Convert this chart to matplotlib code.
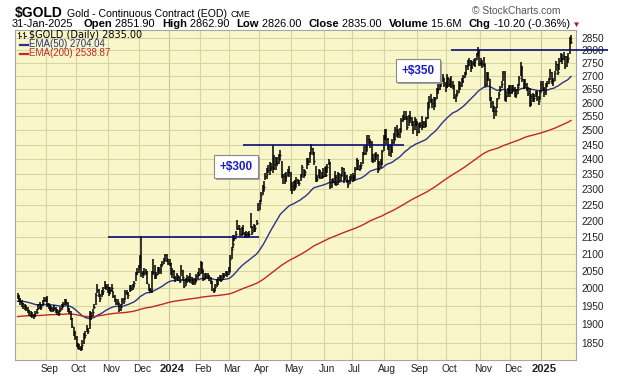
import numpy as np
import matplotlib
matplotlib.use("Agg")
import matplotlib.pyplot as plt
from matplotlib import patheffects, font_manager
from matplotlib.ticker import FixedLocator, NullLocator, FuncFormatter

# =====================================================
# Data
# =====================================================

# trading sessions shown in each month, Aug-2023 .. Jan-2025
month_labels = ["", "Sep", "Oct", "Nov", "Dec", "2024", "Feb", "Mar", "Apr", "May",
                "Jun", "Jul", "Aug", "Sep", "Oct", "Nov", "Dec", "2025"]
month_days = [20, 20, 22, 21, 20, 21, 20, 20, 22, 22, 19, 22, 22, 20, 23, 20, 21, 21]

# daily close
close = [
    1976, 1970, 1962, 1958, 1950, 1946, 1944, 1938, 1931, 1928, 1924, 1922, 1926, 1934, 1945, 1950, 1946, 1958, 1966, 1968,  # Aug 23
    1952, 1951, 1944, 1942, 1940, 1945, 1935, 1932, 1930, 1938, 1946, 1955, 1962, 1958, 1940, 1936, 1918, 1895, 1878, 1866,  # Sep
    1847, 1841, 1838, 1834, 1845, 1864, 1872, 1887, 1883, 1930, 1922, 1934, 1947, 1980, 1994, 1984, 1972, 1985, 1990, 2006, 2003, 1995,  # Oct
    1985, 1993, 1999, 1978, 1970, 1958, 1962, 1940, 1946, 1965, 1963, 1988, 1985, 1980, 1999, 1998, 2003, 2013, 2041, 2046, 2057,  # Nov
    2089, 2042, 2036, 2047, 2046, 2015, 1996, 1993, 2047, 2045, 2036, 2038, 2054, 2051, 2062, 2069, 2079, 2095, 2083, 2072,  # Dec
    2073, 2043, 2050, 2030, 2027, 2031, 2029, 2019, 2051, 2030, 2006, 2022, 2029, 2022, 2030, 2015, 2017, 2018, 2034, 2037, 2039,  # Jan 24
    2071, 2053, 2025, 2035, 2034, 2034, 2024, 2020, 1993, 1992, 2004, 2011, 2025, 2031, 2024, 2035, 2038, 2042, 2041, 2045,  # Feb
    2083, 2114, 2128, 2148, 2158, 2178, 2182, 2158, 2176, 2162, 2155, 2159, 2156, 2160, 2181, 2165, 2175, 2178, 2194, 2233,  # Mar
    2257, 2281, 2295, 2309, 2345, 2350, 2364, 2372, 2374, 2372, 2383, 2391, 2388, 2398, 2413, 2346, 2342, 2338, 2342, 2358, 2357, 2302,  # Apr
    2311, 2309, 2308, 2331, 2324, 2322, 2340, 2375, 2346, 2358, 2395, 2385, 2419, 2438, 2425, 2393, 2337, 2334, 2361, 2339, 2344, 2345,  # May
    2369, 2348, 2375, 2390, 2311, 2327, 2327, 2339, 2318, 2349, 2330, 2345, 2369, 2334, 2344, 2330, 2318, 2336, 2339,  # Jun
    2340, 2334, 2368, 2397, 2367, 2371, 2380, 2418, 2421, 2428, 2469, 2459, 2458, 2400, 2396, 2410, 2414, 2365, 2386, 2385, 2427, 2473,  # Jul
    2480, 2469, 2444, 2420, 2433, 2460, 2466, 2501, 2490, 2488, 2493, 2538, 2541, 2548, 2546, 2511, 2547, 2545, 2524, 2504, 2540, 2527,  # Aug
    2493, 2519, 2518, 2516, 2525, 2519, 2543, 2581, 2611, 2612, 2598, 2587, 2614, 2646, 2650, 2677, 2672, 2694, 2668, 2659,  # Sep
    2690, 2669, 2677, 2667, 2665, 2622, 2626, 2637, 2676, 2665, 2680, 2695, 2707, 2737, 2742, 2757, 2736, 2749, 2756, 2762, 2781, 2800, 2749,  # Oct
    2749, 2745, 2749, 2668, 2706, 2694, 2618, 2598, 2587, 2568, 2570, 2612, 2631, 2650, 2670, 2712, 2616, 2625, 2636, 2657,  # Nov
    2640, 2650, 2654, 2632, 2633, 2660, 2692, 2730, 2689, 2668, 2671, 2653, 2636, 2595, 2623, 2617, 2618, 2635, 2617, 2606, 2641,  # Dec
    2668, 2654, 2639, 2664, 2672, 2682, 2715, 2685, 2681, 2712, 2748, 2715, 2760, 2770, 2766, 2778, 2740, 2766, 2770, 2845, 2835,  # Jan 25
]

# high minus close
bar_up = [
    10, 9, 10, 8, 9, 8, 7, 9, 8, 7, 8, 6, 9, 8, 10, 12, 9, 8, 8, 7,
    26, 8, 9, 7, 8, 7, 12, 9, 8, 9, 8, 7, 8, 10, 20, 8, 19, 22, 15, 16,
    22, 10, 9, 8, 12, 12, 9, 10, 8, 6, 11, 8, 9, 5, 16, 14, 10, 8, 12, 13, 8, 15,
    18, 10, 13, 12, 10, 12, 7, 17, 9, 8, 9, 6, 10, 9, 8, 10, 8, 6, 6, 12, 9,
    6, 110, 12, 9, 8, 33, 16, 8, 3, 39, 31, 9, 6, 8, 8, 10, 7, 4, 15, 11,
    10, 30, 7, 22, 8, 12, 8, 16, 16, 21, 20, 6, 7, 11, 12, 16, 12, 11, 6, 9, 17,
    8, 23, 26, 7, 9, 8, 12, 12, 27, 7, 8, 14, 6, 7, 12, 8, 6, 6, 9, 16,
    12, 5, 28, 9, 10, 25, 6, 20, 5, 25, 10, 9, 8, 8, 44, 19, 14, 10, 9, 23,
    8, 10, 20, 17, 9, 22, 15, 18, 14, 76, 32, 17, 20, 19, 18, 48, 9, 15, 16, 10, 19, 56,
    12, 19, 22, 8, 9, 8, 10, 6, 20, 6, 8, 19, 4, 16, 15, 32, 41, 12, 6, 26, 13, 24,
    5, 28, 8, 12, 80, 8, 10, 20, 28, 9, 25, 6, 6, 36, 12, 16, 14, 8, 10,
    12, 14, 5, 8, 30, 8, 10, 6, 26, 20, 14, 24, 12, 62, 22, 10, 10, 52, 8, 15, 3, 10,
    25, 35, 28, 30, 20, 8, 25, 10, 28, 16, 14, 6, 14, 22, 24, 42, 8, 25, 24, 30, 8, 15,
    40, 8, 12, 35, 9, 14, 6, 22, 14, 20, 16, 35, 8, 10, 18, 8, 16, 15, 26, 20,
    18, 26, 14, 34, 16, 44, 8, 10, 5, 12, 14, 8, 10, 6, 20, 12, 27, 8, 10, 9, 8, 12, 52,
    20, 18, 26, 80, 8, 22, 70, 22, 20, 20, 16, 5, 10, 12, 12, 8, 105, 20, 18, 10,
    25, 15, 12, 26, 18, 10, 8, 25, 48, 22, 18, 22, 24, 58, 10, 18, 15, 8, 25, 18, 8,
    12, 28, 20, 10, 8, 10, 12, 30, 10, 8, 10, 32, 10, 20, 18, 14, 38, 10, 20, 10, 28,
]

# close minus low
bar_dn = [
    8, 10, 9, 10, 8, 7, 9, 8, 9, 8, 7, 8, 6, 7, 6, 8, 7, 9, 6, 7,
    5, 9, 8, 9, 7, 8, 6, 8, 7, 6, 7, 8, 9, 7, 6, 9, 6, 5, 10, 8,
    8, 7, 6, 6, 14, 17, 8, 7, 10, 43, 10, 12, 7, 27, 9, 10, 12, 10, 9, 8, 10, 9,
    8, 9, 10, 7, 9, 6, 9, 6, 10, 14, 9, 21, 6, 11, 10, 8, 10, 9, 21, 9, 13,
    31, 11, 8, 11, 10, 5, 5, 7, 60, 8, 10, 13, 17, 10, 22, 7, 9, 17, 9, 7,
    9, 6, 21, 5, 9, 9, 8, 5, 18, 9, 6, 16, 14, 6, 15, 5, 8, 9, 18, 11, 6,
    30, 9, 5, 10, 7, 9, 5, 8, 3, 7, 12, 9, 16, 10, 7, 12, 10, 9, 11, 9,
    36, 31, 12, 10, 8, 8, 12, 6, 23, 6, 8, 12, 9, 10, 3, 8, 9, 12, 8, 4,
    24, 23, 12, 13, 15, 15, 11, 24, 15, 17, 19, 26, 12, 15, 15, 8, 26, 20, 17, 14, 17, 6,
    25, 15, 10, 23, 8, 12, 14, 34, 8, 13, 27, 5, 31, 20, 10, 13, 12, 10, 25, 5, 9, 8,
    28, 8, 23, 8, 10, 22, 7, 25, 7, 34, 7, 19, 24, 12, 13, 8, 15, 20, 8,
    15, 8, 33, 30, 5, 12, 12, 35, 8, 15, 40, 6, 20, 8, 10, 18, 15, 12, 22, 15, 45, 45,
    15, 18, 14, 10, 24, 40, 12, 36, 12, 15, 20, 44, 10, 10, 10, 8, 32, 20, 10, 15, 40, 13,
    14, 28, 10, 14, 15, 12, 30, 40, 30, 12, 18, 12, 30, 32, 16, 28, 14, 15, 10, 20,
    36, 9, 20, 14, 14, 8, 22, 14, 40, 16, 22, 22, 14, 32, 18, 20, 20, 20, 18, 28, 18, 20, 10,
    12, 15, 14, 8, 45, 12, 10, 16, 20, 27, 18, 32, 18, 12, 15, 30, 11, 22, 16, 25,
    18, 18, 16, 10, 16, 28, 30, 28, 10, 18, 16, 10, 12, 12, 35, 14, 16, 15, 10, 14, 32,
    30, 12, 18, 34, 14, 12, 30, 14, 18, 30, 30, 12, 38, 14, 20, 16, 12, 30, 20, 60, 9,
]

# EMA levels at the first bar shown
ema50_start = 1962
ema200_start = 1920

# resistance levels and the gains written next to them
resistance = [2150, 2450, 2800]
gain_text = ["+$300", "+$350"]
gain_price = [2375, 2721]

# =====================================================
# Style / layout
# =====================================================

W, H = 620, 376
BG = "#f9f7c9"
GRID = "#d8d5a4"
BLUE_LINE = "#0c0c78"
EMA50_C = "#2a3388"
EMA200_C = "#c0272d"
SANS = ["Liberation Sans", "DejaVu Sans"]

installed = {f.name for f in font_manager.fontManager.ttflist}
NARROW = "Liberation Sans Narrow" if "Liberation Sans Narrow" in installed else "Liberation Sans"

# plot box in pixels
L, R, T, B = 15, 576, 30, 360

res_span = [(61, 163.5), (153, 262), (294, 400)]
gain_x = [148, 271.5]


def ema(values, span, start):
    alpha = 2.0 / (span + 1)
    out = []
    level = start
    for v in values:
        level = level + alpha * (v - level)
        out.append(level)
    return np.array(out)


close = np.array(close, dtype=float)
high = close + np.array(bar_up)
low = close - np.array(bar_dn)
x = np.arange(len(close))
starts = np.cumsum([0] + month_days[:-1])

fig = plt.figure(figsize=(W / 100, H / 100), dpi=100)
fig.patch.set_facecolor("white")
ax = fig.add_axes([L / W, 1 - B / H, (R - L) / W, (B - T) / H])
ax.set_facecolor(BG)

ax.set_yscale("log")
ax.set_ylim(1806, 2882)
ax.set_xlim(-1.7, 378.4)

# grid
for s, lab in zip(starts[1:], month_labels[1:]):
    ax.axvline(s - 0.5, color="#c8c59a" if lab.isdigit() else GRID, lw=0.8, zorder=0)
yt = list(range(1850, 2851, 50))
for v in yt:
    ax.axhline(v, color=GRID, lw=0.8, zorder=0)

# price bars
ax.vlines(x, low, high, color="black", lw=1.1, zorder=3)
ax.hlines(close, x, x + 0.7, color="black", lw=1.0, zorder=3)

# moving averages
ax.plot(x, ema(close, 50, ema50_start), color=EMA50_C, lw=1.0, zorder=2)
ax.plot(x, ema(close, 200, ema200_start), color=EMA200_C, lw=1.0, zorder=2)

# resistance lines
for lvl, (x0, x1) in zip(resistance, res_span):
    ax.hlines(lvl, x0, x1, color=BLUE_LINE, lw=1.2, zorder=4, clip_on=False)

for txt, gx, gp in zip(gain_text, gain_x, gain_price):
    t = ax.text(gx, gp, txt, ha="center", va="center", fontsize=8.5,
                fontweight="bold", color="#1b1bc4", family=SANS, zorder=6,
                bbox=dict(boxstyle="square,pad=0.45", fc="white", ec="#8a8a8a", lw=0.8))
    t.get_bbox_patch().set_path_effects([
        patheffects.withSimplePatchShadow(offset=(1.5, -1.5), shadow_rgbFace="#9a9a9a", alpha=0.9)
    ])

# axes
ax.yaxis.tick_right()
ax.yaxis.set_major_locator(FixedLocator(yt))
ax.yaxis.set_minor_locator(NullLocator())
ax.yaxis.set_major_formatter(FuncFormatter(lambda v, p: f"{int(round(v))}"))
ax.tick_params(axis="y", length=0, pad=4, labelsize=7.3, labelcolor="#222222")
ax.set_xticks(starts[1:] + 1.5)
ax.set_xticklabels(month_labels[1:])
ax.tick_params(axis="x", length=0, pad=3, labelsize=7.3, labelcolor="#222222")
for lab in ax.get_xticklabels() + ax.get_yticklabels():
    lab.set_family(SANS)
for lab in ax.get_xticklabels():
    if lab.get_text().isdigit():
        lab.set_fontweight("bold")
        lab.set_fontsize(8)
for sp in ax.spines.values():
    sp.set_color("#a5a5a5")
    sp.set_linewidth(0.8)


# =====================================================
# Header
# =====================================================

def fx(px):
    return px / W


def fy(py):
    return 1 - py / H


renderer = fig.canvas.get_renderer()


def write_run(parts, x0, y0):
    xpos = x0
    for s, kw in parts:
        if s is None:
            xpos += kw
            continue
        kw = dict(kw)
        fam = kw.pop("family", SANS)
        t = fig.text(fx(xpos), fy(y0), s, va="baseline", ha="left", family=fam, **kw)
        xpos += t.get_window_extent(renderer).width


gold_size = 11.5 if NARROW != "Liberation Sans" else 10
write_run([("$GOLD", dict(fontsize=gold_size, fontweight="bold", family=NARROW)), (None, 4),
           ("Gold - Continuous Contract (EOD)", dict(fontsize=7.6)), (None, 4),
           ("CME", dict(fontsize=6.5))], 15, 17)
fig.text(fx(561), fy(14.5), "\u00a9 StockCharts.com", ha="right", va="baseline",
         fontsize=7.4, color="#555555", family=SANS)

nb = dict(fontsize=7.9)
bd = dict(fontsize=8.1, fontweight="bold")
write_run([
    ("31-Jan-2025", nb), (None, 10),
    ("Open", bd), (" 2851.90", nb), (None, 7),
    ("High", bd), (" 2862.90", nb), (None, 7),
    ("Low", bd), (" 2826.00", nb), (None, 7),
    ("Close", bd), (" 2835.00", nb), (None, 7),
    ("Volume", bd), (" 15.6M", nb), (None, 7),
    ("Chg", bd), (" -10.20 (-0.36%)", nb),
    (" \u25bc", dict(fontsize=6, color="#a0203a")),
], 12, 27)

# legend inside the plot
fig.text(fx(29), fy(38), "$GOLD (Daily) 2835.00", fontsize=7.0, family="DejaVu Sans",
         va="baseline", color="black")
fig.text(fx(29), fy(47), "EMA(50) 2704.04", fontsize=7.0, family=SANS,
         va="baseline", color=EMA50_C)
fig.text(fx(29), fy(56.5), "EMA(200) 2538.87", fontsize=7.0, family=SANS,
         va="baseline", color=EMA200_C)
for py, c in [(44.5, EMA50_C), (54, EMA200_C)]:
    fig.add_artist(plt.Line2D([fx(20), fx(28)], [fy(py), fy(py)], color=c, lw=1.6))
# small OHLC icon
for px0 in (19, 24):
    fig.add_artist(plt.Line2D([fx(px0), fx(px0)], [fy(31.5), fy(38)], color="#333333", lw=0.8))
    fig.add_artist(plt.Line2D([fx(px0 - 1.5), fx(px0)], [fy(33), fy(33)], color="#333333", lw=0.8))
    fig.add_artist(plt.Line2D([fx(px0), fx(px0 + 1.5)], [fy(36), fy(36)], color="#333333", lw=0.8))

fig.savefig("out.png", dpi=100, facecolor="white")
